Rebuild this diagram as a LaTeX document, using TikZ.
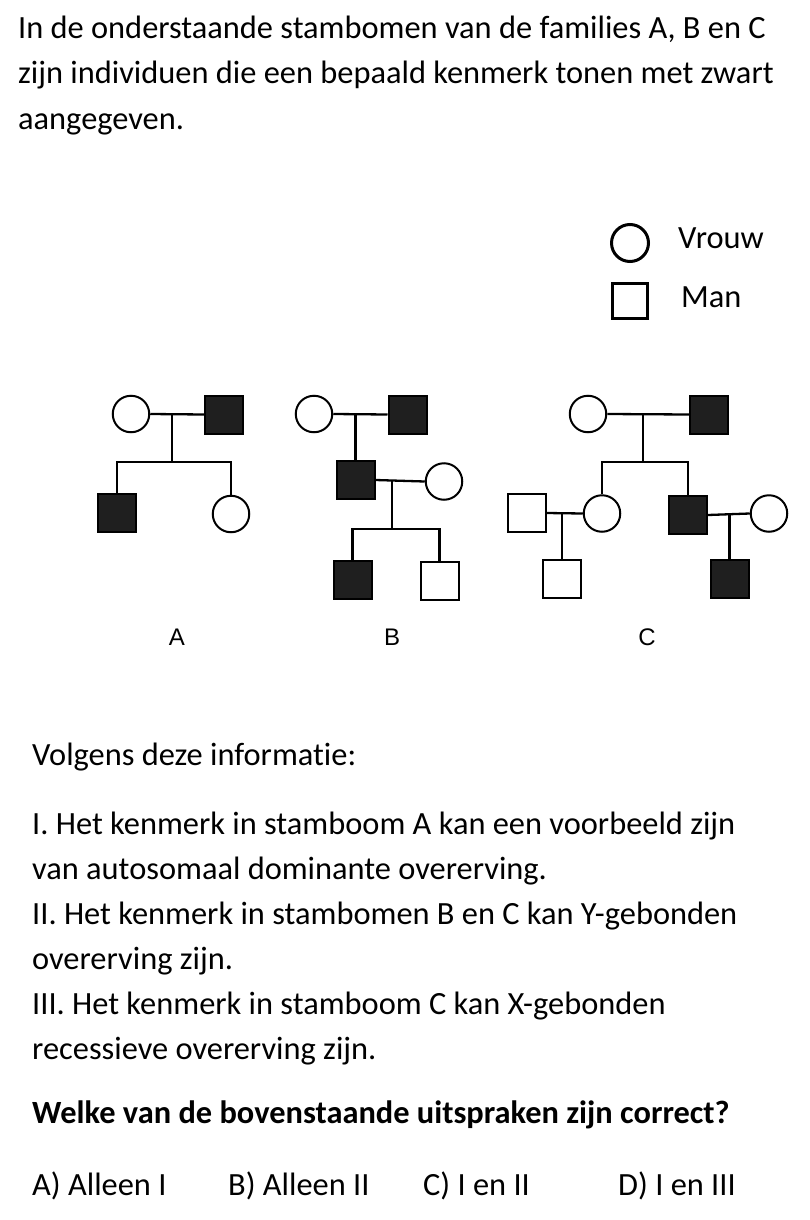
\documentclass[tikz,border=0pt]{standalone}
\usepackage{fontspec}
\setmainfont{Carlito}[Ligatures=CommonOff]
\newfontfamily\labelfont{Liberation Sans}
\usetikzlibrary{positioning, calc}

\tikzset{
    female/.style={circle, draw, line width=2pt, minimum size=36.5pt, inner sep=0pt, fill=white},
    male/.style={rectangle, draw, line width=2pt, minimum size=38pt, inner sep=0pt, fill=white},
    affected/.style={fill=black!88},
    link/.style={line width=2.3pt},
    txt/.style={anchor=base west, inner sep=0pt, font=\fontsize{32.4}{45}\selectfont},
    famlabel/.style={inner sep=0pt, font=\labelfont\fontsize{24}{24}\selectfont},
}

\begin{document}
\begin{tikzpicture}[x=1pt, y=-1pt]
        \useasboundingbox (0,0) rectangle (810,1220);

        % intro text
        \foreach \line [count=\i from 0] in {{In de onderstaande stambomen van de families A, B en C},
            {zijn individuen die een bepaald kenmerk tonen met zwart},
            {aangegeven.}}
        {
            \node[txt] (intro\i) at (18, 39+45*\i) {\line};
        }

        % legend
        \node[female, line width=3pt, minimum size=37pt] (lf) at (630,243) {};
        \node[male, line width=3pt, minimum size=35pt] (lm) at (630,301) {};
        \node[txt] (lftext) at (678,248) {Vrouw};
        \node[txt] (lmtext) at (681,307) {Man};

        % family A
        \node[female] (A1) at (131,414) {};
        \node[male, affected] (A2) at (224,414.5) {};
        \node[male, affected] (A3) at (117,513) {};
        \node[female] (A4) at (231,514) {};
        \coordinate (mA) at (172,414);
        \coordinate (sA) at (172,462);
        \draw[link] (A1.east) -- (A2.west);
        \draw[link] (mA) -- (sA);
        \draw[link] (A3.north) |- (sA) -| (A4.north);
        \node[famlabel] (labA) at (177,637) {A};

        % family B
        \node[female] (B1) at (314,414) {};
        \node[male, affected] (B2) at (407.5,414.5) {};
        \node[male, affected] (B3) at (355.5,480) {};
        \node[female] (B4) at (444,481.5) {};
        \node[male, affected] (B5) at (352.5,579.5) {};
        \node[male] (B6) at (439.5,581) {};
        \coordinate (mB1) at (355.5,414);
        \coordinate (mB2) at (392,481);
        \coordinate (sB) at (392,529);
        \draw[link] (B1.east) -- (B2.west);
        \draw[link] (mB1) -- (B3.north);
        \draw[link] (B3.east) -- (B4.west);
        \draw[link] (mB2) -- (sB);
        \draw[link] (B5.north) |- (sB) -| (B6.north);
        \node[famlabel] (labB) at (392,637) {B};

        % family C
        \node[female] (C1) at (588,414) {};
        \node[male, affected] (C2) at (709,414.5) {};
        \node[female] (C3) at (602,513.5) {};
        \node[male, affected] (C4) at (688,515) {};
        \node[male] (C5) at (526.5,513) {};
        \node[male] (C6) at (562,578.5) {};
        \node[female] (C7) at (769,513.5) {};
        \node[male, affected] (C8) at (729.5,578.5) {};
        \coordinate (mC1) at (643,414);
        \coordinate (sC) at (643,462);
        \coordinate (mC2) at (562,513.5);
        \coordinate (mC3) at (729.5,514);
        \draw[link] (C1.east) -- (C2.west);
        \draw[link] (mC1) -- (sC);
        \draw[link] (C3.north) |- (sC) -| (C4.north);
        \draw[link] (C5.east) -- (C3.west);
        \draw[link] (mC2) -- (C6.north);
        \draw[link] (C4.east) -- (C7.west);
        \draw[link] (mC3) -- (C8.north);
        \node[famlabel] (labC) at (647,637) {C};

        % statements
        \node[txt] (info) at (32,765) {Volgens deze informatie:};
        \foreach \line [count=\i from 0] in {{I. Het kenmerk in stamboom A kan een voorbeeld zijn},
            {van autosomaal dominante overerving.},
            {II. Het kenmerk in stambomen B en C kan Y-gebonden},
            {overerving zijn.},
            {III. Het kenmerk in stamboom C kan X-gebonden},
            {recessieve overerving zijn.}}
        {
            \node[txt] (item\i) at (32, 834+45*\i) {\line};
        }

        % question and answers
        \node[txt, font=\bfseries\fontsize{32.4}{45}\selectfont] (question) at (32,1123) {Welke van de bovenstaande uitspraken zijn correct?};
        \node[txt] (ansA) at (32,1195) {A) Alleen I};
        \node[txt] (ansB) at (228,1195) {B) Alleen II};
        \node[txt] (ansC) at (423,1195) {C) I en II};
        \node[txt] (ansD) at (618,1195) {D) I en III};
    \end{tikzpicture}
\end{document}
